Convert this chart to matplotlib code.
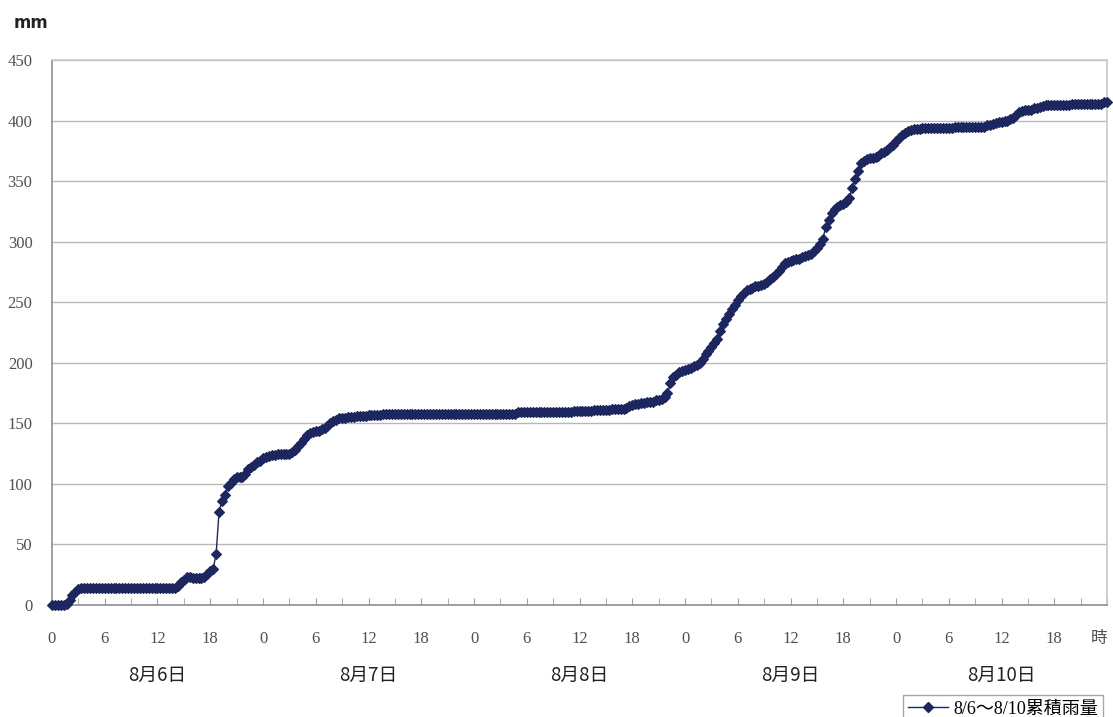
import numpy as np
import matplotlib
matplotlib.use('Agg')
import matplotlib.pyplot as plt
from matplotlib.lines import Line2D

# cumulative rainfall (mm), one reading every 20 minutes, 8/6 00:00 - 8/10 24:00
day_0806 = [
    0, 0, 0, 0, 0, 1, 4, 8, 11, 13, 14, 14,
    14, 14, 14, 14, 14, 14, 14, 14, 14, 14, 14, 14,
    14, 14, 14, 14, 14, 14, 14, 14, 14, 14, 14, 14,
    14, 14, 14, 14, 14, 14, 14, 16, 19, 21, 23, 23,
    22, 22, 22, 22, 23, 26, 28, 30, 42, 77, 86, 91,
    98, 101, 104, 106, 106, 106, 108, 112, 114, 116, 118, 119,
]
day_0807 = [
    121, 122, 123, 124, 124, 125, 125, 125, 125, 125, 126, 128,
    131, 134, 137, 140, 142, 143, 144, 144, 145, 146, 148, 150,
    152, 153, 154, 154, 154, 155, 155, 155, 156, 156, 156, 156,
    157, 157, 157, 157, 157, 158, 158, 158, 158, 158, 158, 158,
    158, 158, 158, 158, 158, 158, 158, 158, 158, 158, 158, 158,
    158, 158, 158, 158, 158, 158, 158, 158, 158, 158, 158, 158,
]
day_0808 = [
    158, 158, 158, 158, 158, 158, 158, 158, 158, 158, 158, 158,
    158, 158, 158, 159, 159, 159, 159, 159, 159, 159, 159, 159,
    159, 159, 159, 159, 159, 159, 159, 159, 159, 159, 160, 160,
    160, 160, 160, 160, 160, 161, 161, 161, 161, 161, 161, 162,
    162, 162, 162, 162, 163, 164, 165, 166, 166, 167, 167, 168,
    168, 168, 169, 169, 170, 172, 175, 183, 188, 190, 192, 193,
]
day_0809 = [
    194, 195, 196, 197, 198, 200, 203, 207, 210, 213, 216, 220,
    226, 232, 236, 240, 244, 248, 252, 255, 258, 260, 261, 262,
    263, 263, 264, 265, 267, 269, 271, 273, 276, 279, 282, 283,
    284, 285, 286, 286, 287, 288, 289, 290, 292, 295, 298, 302,
    312, 318, 324, 327, 329, 330, 331, 333, 336, 344, 352, 358,
    365, 367, 368, 369, 369, 370, 371, 373, 374, 376, 378, 380,
]
day_0810 = [
    383, 386, 388, 390, 391, 392, 393, 393, 393, 394, 394, 394,
    394, 394, 394, 394, 394, 394, 394, 394, 395, 395, 395, 395,
    395, 395, 395, 395, 395, 395, 395, 396, 396, 397, 398, 399,
    399, 400, 400, 401, 402, 405, 407, 408, 409, 409, 409, 410,
    410, 411, 412, 413, 413, 413, 413, 413, 413, 413, 413, 413,
    414, 414, 414, 414, 414, 414, 414, 414, 414, 414, 414, 415,
    415,
]
day_names = ['8月6日', '8月7日', '8月8日', '8月9日', '8月10日']
hour_labels = ['0', '6', '12', '18']
series_name = '8/6～8/10累積雨量'

rain = np.array(day_0806 + day_0807 + day_0808 + day_0809 + day_0810, dtype=float)
hours = np.arange(len(rain)) / 3.0

serif = ['Liberation Serif', 'Noto Sans CJK TC']
cjk = ['Noto Sans CJK TC', 'DejaVu Sans']
navy = '#1c2660'

fig = plt.figure(figsize=(11.13, 7.17), dpi=100)
ax = fig.add_axes([0.0467, 0.1562, 0.948, 0.7601])

ax.plot(hours, rain, color=navy, lw=1.0, marker='D', ms=5.5,
        markeredgewidth=0.8, markeredgecolor=navy, clip_on=False, zorder=3)

ax.set_xlim(0, 120)
ax.set_ylim(0, 450)
ax.set_yticks(np.arange(0, 451, 50))
ax.grid(axis='y', color='#b8b8b8', lw=1.0)
ax.set_axisbelow(True)
for side in ['top', 'right']:
    ax.spines[side].set_color('#c8c8c8')
ax.spines['left'].set_color('#909090')
ax.spines['bottom'].set_color('#909090')
for s in ax.spines.values():
    s.set_linewidth(1.2)

xt = np.arange(0, 121, 6)
xl = [hour_labels[i % 4] for i in range(len(xt) - 1)] + ['時']
ax.set_xticks(xt)
ax.set_xticklabels(xl, family=serif, fontsize=12, color='#505050')
ax.get_xticklabels()[-1].set_horizontalalignment('right')
ax.set_xticks(np.arange(0, 121, 3), minor=True)
ax.tick_params(axis='x', which='both', direction='in', length=5, color='#a0a0a0', pad=19)
ax.tick_params(axis='y', length=0, pad=14)
for lab in ax.get_yticklabels():
    lab.set_family(serif)
    lab.set_fontsize(12)
    lab.set_color('#505050')

for i, name in enumerate(day_names):
    ax.text(12 + 24 * i, -0.13, name, transform=ax.get_xaxis_transform(),
            ha='center', va='center', fontsize=13.5, family=cjk, color='#222222')

fig.text(0.012, 0.968, 'mm', ha='left', va='center', fontsize=12,
         family=['DejaVu Sans'], color='#222222', weight='bold')

handle = Line2D([], [], color=navy, lw=1.0, marker='D', ms=5)
leg = fig.legend([handle], [series_name], loc='upper left',
                 bbox_to_anchor=(0.803, 0.043), frameon=True, fancybox=False,
                 prop={'family': serif, 'size': 13}, borderpad=0.3,
                 handlelength=2.2, handletextpad=0.3)
leg.get_frame().set_edgecolor('#909090')
leg.get_frame().set_linewidth(1.0)

fig.savefig('out.png', dpi=100)
